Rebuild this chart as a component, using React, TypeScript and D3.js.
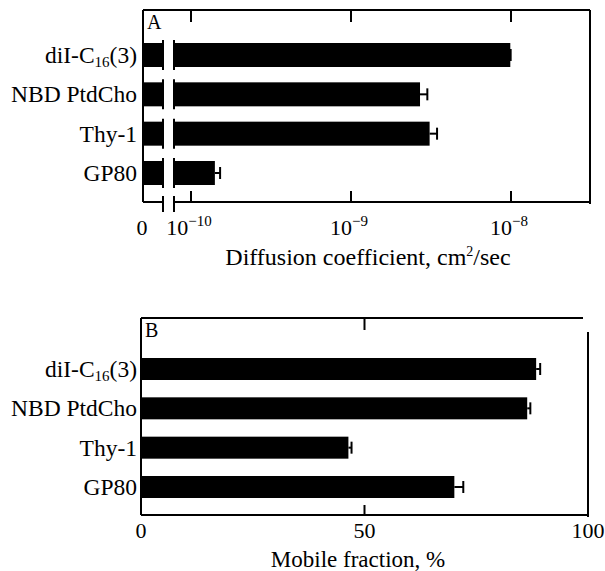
import React from "react";
import * as d3 from "d3";

const categories = ["diI-C16(3)", "NBD PtdCho", "Thy-1", "GP80"];
const diffusion = [9.9e-9, 2.7e-9, 3.1e-9, 1.41e-10];
const diffusionErr = [9.95e-9, 3.0e-9, 3.45e-9, 1.52e-10];
const mobile = [88.4, 86.4, 46.4, 70.1];
const mobileErr = [89.3, 87.1, 47.1, 72.1];
const logTicks = [1e-10, 1e-9, 1e-8];
const logTickExp = ["−10", "−9", "−8"];
const linTicks = [0, 50, 100];

const FONT = "'Liberation Serif', 'DejaVu Serif', serif";

function Label({ name, x, y }: { name: string; x: number; y: number }) {
  if (name.startsWith("diI-C16")) {
    return (
      <text x={x} y={y} textAnchor="end" fontSize={23.5} fontFamily={FONT}>
        diI-C
        <tspan fontSize={15} dy={4}>16</tspan>
        <tspan dy={-4}>(3)</tspan>
      </text>
    );
  }
  return (
    <text x={x} y={y} textAnchor="end" fontSize={23.5} fontFamily={FONT}>
      {name}
    </text>
  );
}

export default function App() {
  // Panel A
  const aL = 143, aR = 590, aT = 10, aB = 202;
  const xA = d3.scaleLog().domain([1e-10, 1e-8]).range([191, 511]);
  const yA = d3.scalePoint<string>().domain(categories).range([55, 173]);
  const hA = 24;
  const brk1 = 163, brk2 = 174;

  // Panel B
  const bL = 141, bR = 588, bT = 318, bB = 515;
  const xB = d3.scaleLinear().domain([0, 100]).range([bL, bR]);
  const yB = d3.scalePoint<string>().domain(categories).range([369, 487]);
  const hB = 22;

  const sw = 2;

  return (
    <svg width={605} height={571} style={{ position: "absolute", left: 0, top: 0 }}>
      <rect width={605} height={571} fill="#fff" />
      {/* Panel A frame */}
      <g stroke="#000" strokeWidth={sw} fill="none">
        <line x1={aL} x2={aR} y1={aT} y2={aT} />
        <line x1={aL} x2={aL} y1={aT} y2={aB} />
        <line x1={aR} x2={aR} y1={aT} y2={aB + 2} />
        <line x1={aL} x2={brk1} y1={aB} y2={aB} />
        <line x1={brk2} x2={aR} y1={aB} y2={aB} />
        {logTicks.map((t, i) => (
          <g key={i}>
            <line x1={xA(t)} x2={xA(t)} y1={aT} y2={aT + 12} />
            <line x1={xA(t)} x2={xA(t)} y1={aB} y2={aB - 11} />
          </g>
        ))}
        <line x1={brk1} x2={brk1} y1={aB - 6} y2={aB + 10} />
        <line x1={brk2} x2={brk2} y1={aB - 6} y2={aB + 10} />
      </g>
      <text x={147} y={29} fontSize={20} fontFamily={FONT}>A</text>
      {categories.map((c, i) => {
        const yc = yA(c)!;
        const x1 = xA(diffusion[i]);
        const xe = xA(diffusionErr[i]);
        return (
          <g key={c}>
            <rect x={aL} y={yc - hA / 2} width={x1 - aL} height={hA} fill="#000" />
            <rect x={brk1} y={yc - hA / 2 - 1} width={brk2 - brk1} height={hA + 2} fill="#fff" />
            <line x1={brk1} x2={brk1} y1={yc - hA / 2 - 3} y2={yc + hA / 2 + 3} stroke="#000" strokeWidth={sw} />
            <line x1={brk2} x2={brk2} y1={yc - hA / 2 - 3} y2={yc + hA / 2 + 3} stroke="#000" strokeWidth={sw} />
            <line x1={x1} x2={xe} y1={yc} y2={yc} stroke="#000" strokeWidth={sw} />
            <line x1={xe} x2={xe} y1={yc - 6} y2={yc + 6} stroke="#000" strokeWidth={sw} />
            <Label name={c} x={137} y={yc + 8} />
          </g>
        );
      })}
      <text x={142} y={235} textAnchor="middle" fontSize={22} fontFamily={FONT}>0</text>
      {logTicks.map((t, i) => (
        <text key={i} x={xA(t) - 2} y={235} textAnchor="middle" fontSize={22} fontFamily={FONT}>
          10<tspan fontSize={15} dy={-9}>{logTickExp[i]}</tspan>
        </text>
      ))}
      <text x={368} y={265} textAnchor="middle" fontSize={24} fontFamily={FONT}>
        Diffusion coefficient, cm<tspan fontSize={14} dy={-9}>2</tspan>
        <tspan dy={9}>/sec</tspan>
      </text>

      {/* Panel B frame */}
      <g stroke="#000" strokeWidth={sw} fill="none">
        <line x1={bL} x2={583} y1={bT} y2={bT} />
        <line x1={bL} x2={bL} y1={bT} y2={bB} />
        <line x1={bL} x2={bR} y1={bB} y2={bB} />
        <line x1={bR} x2={bR} y1={332} y2={bB + 2} />
        <line x1={xB(50)} x2={xB(50)} y1={bT} y2={bT + 12} />
        <line x1={xB(50)} x2={xB(50)} y1={bB} y2={bB - 10} />
      </g>
      <text x={145} y={337} fontSize={20} fontFamily={FONT}>B</text>
      {categories.map((c, i) => {
        const yc = yB(c)!;
        const x1 = xB(mobile[i]);
        const xe = xB(mobileErr[i]);
        return (
          <g key={c}>
            <rect x={bL} y={yc - hB / 2} width={x1 - bL} height={hB} fill="#000" />
            <line x1={x1} x2={xe} y1={yc} y2={yc} stroke="#000" strokeWidth={sw} />
            <line x1={xe} x2={xe} y1={yc - 6} y2={yc + 6} stroke="#000" strokeWidth={sw} />
            <Label name={c} x={137} y={yc + 8} />
          </g>
        );
      })}
      {linTicks.map((t) => (
        <text key={t} x={xB(t)} y={538} textAnchor="middle" fontSize={22} fontFamily={FONT}>{t}</text>
      ))}
      <text x={358} y={567} textAnchor="middle" fontSize={23} fontFamily={FONT}>
        Mobile fraction, %
      </text>
    </svg>
  );
}
